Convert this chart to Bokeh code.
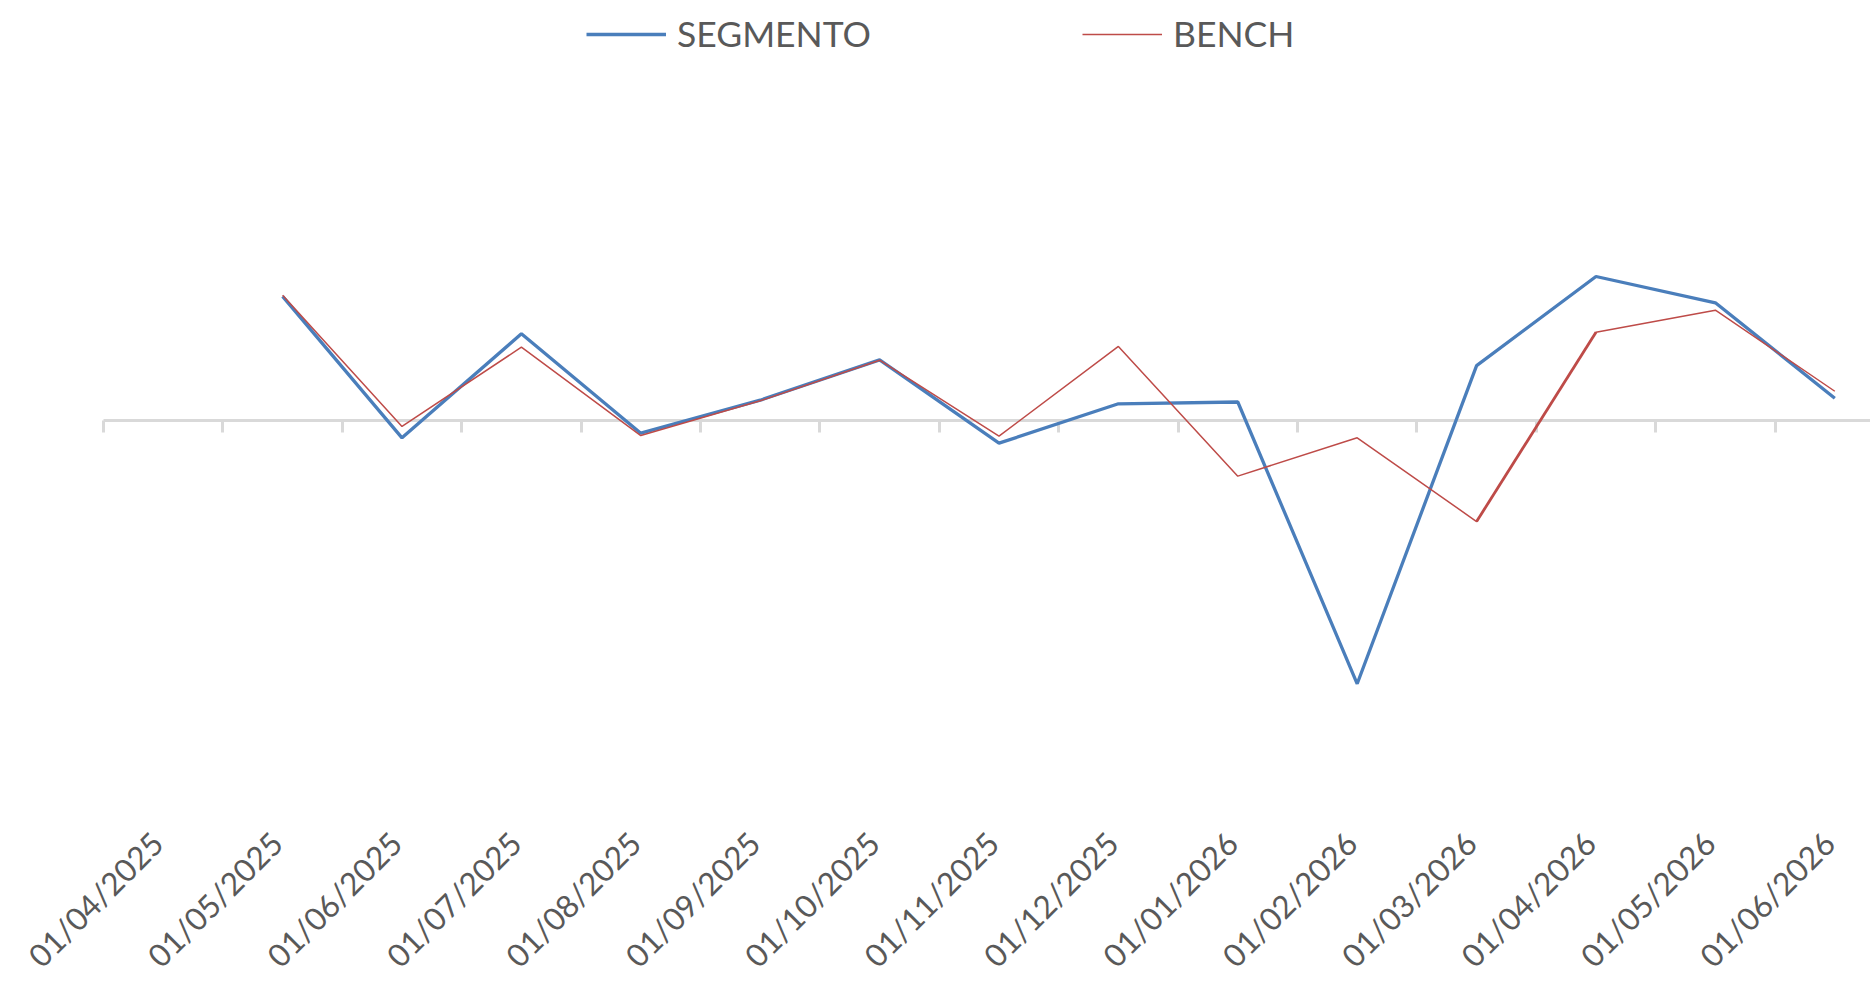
import math
from bokeh.plotting import figure
from bokeh.models import (Range1d, LinearAxis, FixedTicker, Legend, LegendItem)
from bokeh.embed import file_html
from bokeh.resources import INLINE

# ---------------- data ----------------
dates = ["01/04/2025", "01/05/2025", "01/06/2025", "01/07/2025", "01/08/2025",
         "01/09/2025", "01/10/2025", "01/11/2025", "01/12/2025", "01/01/2026",
         "01/02/2026", "01/03/2026", "01/04/2026", "01/05/2026", "01/06/2026"]
segmento = [math.nan, 1.04, -0.145, 0.726, -0.106, 0.17, 0.508, -0.19, 0.14,
            0.155, -2.205, 0.46, 1.206, 0.986, 0.187]
bench = [math.nan, 1.05, -0.05, 0.614, -0.126, 0.165, 0.505, -0.131, 0.62,
         -0.466, -0.145, -0.846, 0.74, 0.924, 0.245]

# ---------------- layout ----------------
W, H = 1870, 980
AXIS_LEFT = 103       # screen x where the category axis starts
PX_PER_CAT = 119.4
x_start = -0.5 - AXIS_LEFT / PX_PER_CAT
x_end = x_start + W / PX_PER_CAT

ZERO_Y = 420          # screen y of the zero line
PX_PER_UNIT = 119.4
y_end = ZERO_Y / PX_PER_UNIT
y_start = y_end - H / PX_PER_UNIT
LABEL_Y = 837         # screen y where the tick labels are anchored

idx = list(range(len(dates)))

p = figure(width=W, height=H, output_backend="svg", toolbar_location=None,
           x_range=Range1d(x_start, x_end), y_range=Range1d(y_start, y_end),
           x_axis_location=None, y_axis_location=None,
           min_border_left=0, min_border_right=0, min_border_top=0,
           min_border_bottom=0)
p.grid.visible = False
p.outline_line_color = None
p.background_fill_color = "white"
p.border_fill_color = "white"

# zero axis with tick marks between the categories (no labels)
bounds = [i - 0.5 for i in range(len(dates) + 1)]
zaxis = LinearAxis(fixed_location=0, ticker=FixedTicker(ticks=bounds),
                   bounds=(-0.5, x_end),
                   major_label_overrides={b: "" for b in bounds})
zaxis.axis_line_color = "#d9d9d9"
zaxis.axis_line_width = 3
zaxis.major_tick_line_color = "#d9d9d9"
zaxis.major_tick_line_width = 3
zaxis.major_tick_out = 12
zaxis.major_tick_in = 0
zaxis.minor_tick_line_color = None
zaxis.major_label_text_color = None
zaxis.level = "underlay"
p.add_layout(zaxis, "below")

# label axis
shift = -0.05
p.extra_x_ranges = {"lbl": Range1d(x_start - shift, x_end - shift)}
xaxis = LinearAxis(x_range_name="lbl", ticker=FixedTicker(ticks=idx),
                   fixed_location=(ZERO_Y - LABEL_Y) / PX_PER_UNIT,
                   major_label_overrides={i: d for i, d in zip(idx, dates)})
xaxis.major_label_orientation = math.pi / 4
xaxis.axis_line_color = None
xaxis.major_tick_line_color = None
xaxis.minor_tick_line_color = None
xaxis.major_tick_out = 0
xaxis.major_tick_in = 0
xaxis.major_label_standoff = 0
xaxis.major_label_text_font = "Lato"
xaxis.major_label_text_font_size = "31.5px"
xaxis.major_label_text_color = "#595959"
p.add_layout(xaxis, "below")

r_seg = p.line(idx, segmento, line_color="#4a7ebb", line_width=3.3)
r_ben = p.line(idx, bench, line_color="#be4b48", line_width=1.5)
# thicker part of the bench line
p.line(idx[11:13], bench[11:13], line_color="#be4b48", line_width=2.8)

legend = Legend(items=[LegendItem(label="SEGMENTO", renderers=[r_seg]),
                       LegendItem(label="BENCH", renderers=[r_ben])],
                orientation="horizontal", location=(AXIS_LEFT + 483, H - 55),
                glyph_width=80, label_standoff=11, label_width=405, spacing=0,
                padding=0, margin=0, border_line_color=None,
                background_fill_alpha=0,
                label_text_font="Lato", label_text_font_size="35.5px",
                label_text_color="#595959")
p.add_layout(legend, "center")

open("out.html", "w").write(file_html(p, INLINE))
